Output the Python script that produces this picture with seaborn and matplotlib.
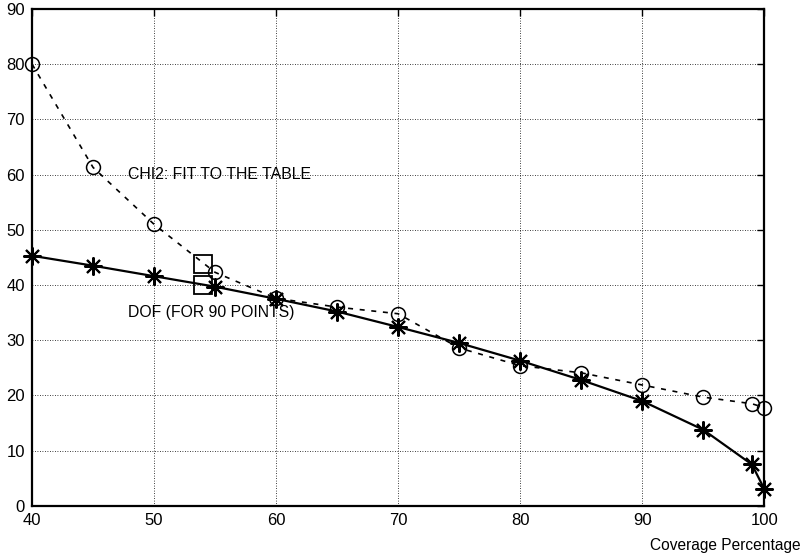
import matplotlib
matplotlib.use("Agg")
import matplotlib.pyplot as plt
import seaborn as sns
import pandas as pd

coverage = [40, 45, 50, 55, 60, 65, 70, 75, 80, 85, 90, 95, 99, 100]
chi2_fit = [80.0, 61.3, 51.0, 42.3, 37.6, 36.0, 34.8, 28.6, 25.4, 24.1, 21.9, 19.7, 18.5, 17.8]
dof_90 = [45.3, 43.5, 41.6, 39.7, 37.5, 35.2, 32.4, 29.5, 26.3, 22.8, 19.0, 13.8, 7.5, 3.1]

x_ticks = [40, 50, 60, 70, 80, 90, 100]
y_ticks = [0, 10, 20, 30, 40, 50, 60, 70, 80, 90]

chi2_label = "CHI2: FIT TO THE TABLE"
dof_label = "DOF (FOR 90 POINTS)"
x_title = "Coverage Percentage"

sns.set_theme(style="white")
plt.rcParams["font.family"] = ["Liberation Sans", "DejaVu Sans"]
plt.rcParams.update({"text.color": "black", "xtick.color": "black",
                     "ytick.color": "black", "axes.labelcolor": "black"})

df = pd.DataFrame({"coverage": coverage, "chi2": chi2_fit, "dof": dof_90})

fig = plt.figure(figsize=(8.01, 5.59), dpi=100)
ax = fig.add_axes([0.040, 0.095, 0.914, 0.889])

sns.lineplot(data=df, x="coverage", y="chi2", ax=ax, color="black",
             linewidth=1.2, linestyle=(0, (3, 4)), marker="o",
             markersize=10, markerfacecolor="none", markeredgecolor="black",
             markeredgewidth=1.1, clip_on=False, zorder=5)
sns.lineplot(data=df, x="coverage", y="dof", ax=ax, color="black",
             linewidth=1.6, marker=(8, 2, 0), markersize=13,
             markeredgecolor="black", markeredgewidth=1.5, clip_on=False,
             zorder=6)

# key entries: open squares next to the text labels
ax.plot([54], [43.8], marker="s", markersize=13, markerfacecolor="none",
        markeredgecolor="black", markeredgewidth=1.3, linestyle="none")
ax.plot([54], [40.0], marker="s", markersize=13, markerfacecolor="none",
        markeredgecolor="black", markeredgewidth=1.3, linestyle="none")
ax.text(47.9, 60, chi2_label, fontsize=11.4, va="center", ha="left",
        color="black")
ax.text(47.9, 35.0, dof_label, fontsize=11.3, va="center", ha="left",
        color="black")

ax.set_xlim(40, 100)
ax.set_ylim(0, 90)
ax.set_xticks(x_ticks)
ax.set_yticks(y_ticks)
ax.set_xlabel("")
ax.set_ylabel("")
ax.grid(True, color="black", linestyle=(0, (1, 2)), linewidth=0.6)
ax.tick_params(axis="both", direction="in", length=5, width=1.0,
               top=True, right=True, labelsize=12, pad=5,
               colors="black")
for sp in ax.spines.values():
    sp.set_color("black")
    sp.set_linewidth(1.6)

fig.text(0.999, 0.025, x_title, fontsize=11.2, ha="right", va="center",
         color="black")

fig.savefig("out.png", dpi=100)
